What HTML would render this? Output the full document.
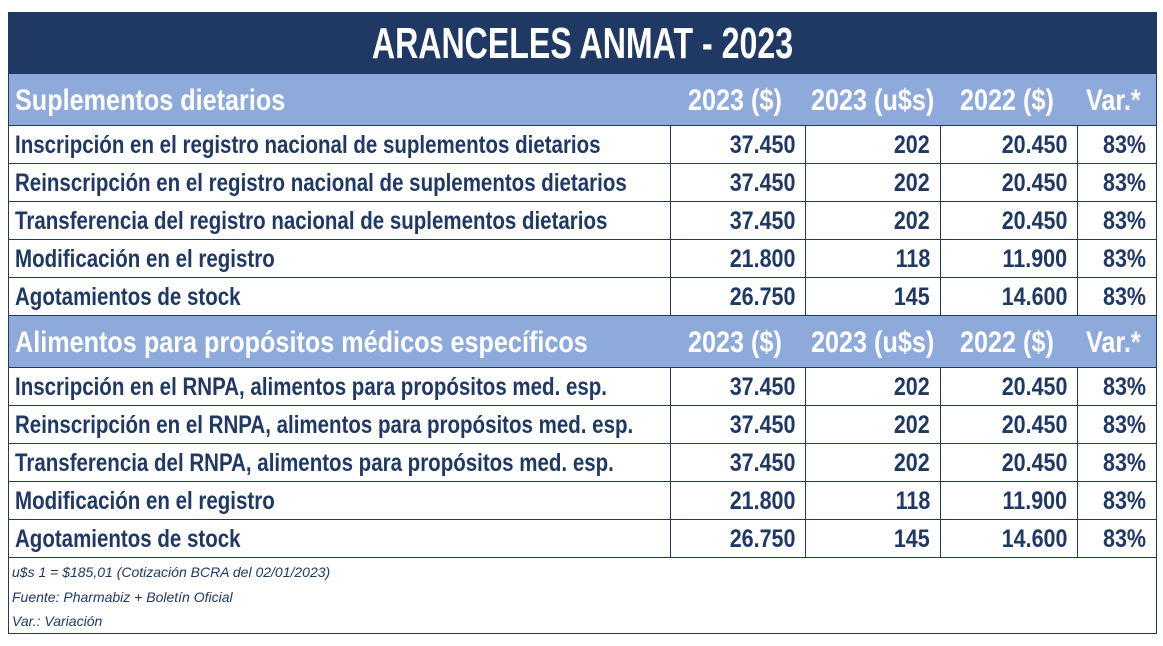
<!DOCTYPE html>
<html><head><meta charset="utf-8"><style>
body{margin:0;width:1163px;height:646px;background:#fff;overflow:hidden;position:relative;font-family:"Liberation Sans",sans-serif;font-weight:bold;color:#1f3864}
.box{position:absolute;left:8px;top:12px;width:1147px;height:620px;border:1px solid #1f3864}
.title{position:absolute;left:9px;top:13px;width:1147px;height:61px;background:#1f3864;color:#fff;font-size:44px;text-align:center;line-height:62px}
.title span{display:inline-block;transform:scaleX(0.73)}
.hdr{position:absolute;left:9px;width:1147px;height:52px;background:#8eaadb;color:#fff;font-size:30px;border-bottom:1px solid #1f3864;box-sizing:border-box}
.hdr div,.row div{position:absolute;top:0;white-space:nowrap}
.hdr div{transform:scaleX(0.84);transform-origin:left}
.row{position:absolute;left:9px;width:1147px;height:38px;border-bottom:1px solid #1f3864;box-sizing:border-box;font-size:25px;line-height:38px}
.row div.t{transform:scaleX(0.82);transform-origin:left}
.row div.c{border-left:1px solid #1f3864;height:37px;text-align:right;box-sizing:border-box;padding-right:10px}
.row div.c span{display:inline-block;transform:scaleX(0.86);transform-origin:right}
.foot{position:absolute;left:12px;font-style:italic;font-weight:normal;font-size:14px}
</style></head><body>
<div class="box"></div>
<div class="title"><span>ARANCELES ANMAT - 2023</span></div>

<div class="hdr" style="top:74px;line-height:54px">
<div style="left:6px">Suplementos dietarios</div>
<div style="left:679px">2023 ($)</div><div style="left:802px">2023 (u$s)</div><div style="left:951px">2022 ($)</div><div style="left:1077px">Var.*</div>
</div>
<div class="hdr" style="top:316px;line-height:54px">
<div style="left:6px">Alimentos para propósitos médicos específicos</div>
<div style="left:679px">2023 ($)</div><div style="left:802px">2023 (u$s)</div><div style="left:951px">2022 ($)</div><div style="left:1077px">Var.*</div>
</div>

<div id="rows"></div>
<div class="foot" style="top:564px">u$s 1 = $185,01 (Cotización BCRA del 02/01/2023)</div>
<div class="foot" style="top:589px">Fuente: Pharmabiz + Boletín Oficial</div>
<div class="foot" style="top:613px">Var.: Variación</div>
<script>
var a=[["Inscripción en el registro nacional de suplementos dietarios","37.450","202","20.450"],["Reinscripción en el registro nacional de suplementos dietarios","37.450","202","20.450"],["Transferencia del registro nacional de suplementos dietarios","37.450","202","20.450"],["Modificación en el registro","21.800","118","11.900"],["Agotamientos de stock","26.750","145","14.600"]];
var b=[["Inscripción en el RNPA, alimentos para propósitos med. esp.","37.450","202","20.450"],["Reinscripción en el RNPA, alimentos para propósitos med. esp.","37.450","202","20.450"],["Transferencia del RNPA, alimentos para propósitos med. esp.","37.450","202","20.450"],["Modificación en el registro","21.800","118","11.900"],["Agotamientos de stock","26.750","145","14.600"]];
var h="";
function add(r,top){h+='<div class="row" style="top:'+top+'px"><div class="t" style="left:6px">'+r[0]+'</div>'+
'<div class="c" style="left:661px;width:135px"><span>'+r[1]+'</span></div>'+
'<div class="c" style="left:796px;width:135px"><span>'+r[2]+'</span></div>'+
'<div class="c" style="left:931px;width:137px"><span>'+r[3]+'</span></div>'+
'<div class="c" style="left:1068px;width:79px"><span>83%</span></div></div>';}
a.forEach(function(r,i){add(r,126+i*38)});
b.forEach(function(r,i){add(r,368+i*38)});
document.getElementById("rows").innerHTML=h;
</script>
</body></html>
